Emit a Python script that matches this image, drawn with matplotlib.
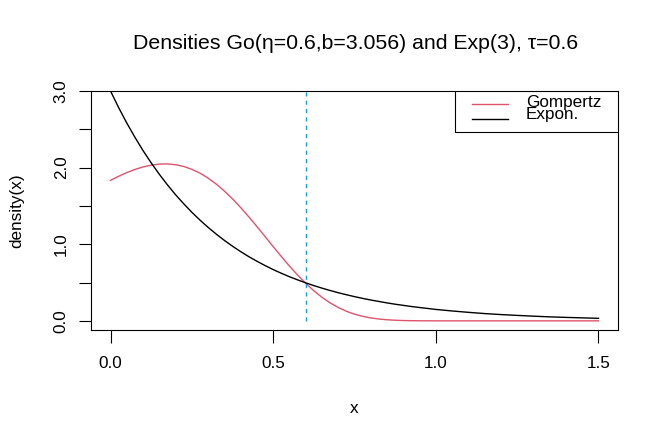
import numpy as np
import matplotlib
matplotlib.use("Agg")
import matplotlib.pyplot as plt
from matplotlib.lines import Line2D
from matplotlib.patches import Rectangle

plt.rcParams['font.family'] = ['Liberation Sans', 'DejaVu Sans']

# values
x_vals = [0.000, 0.025, 0.050, 0.075, 0.100, 0.125, 0.150, 0.175, 0.200, 0.225,
          0.250, 0.275, 0.300, 0.325, 0.350, 0.375, 0.400, 0.425, 0.450, 0.475,
          0.500, 0.525, 0.550, 0.575, 0.600, 0.625, 0.650, 0.675, 0.700, 0.725,
          0.750, 0.775, 0.800, 0.825, 0.850, 0.875, 0.900, 0.925, 0.950,
          1.00, 1.05, 1.10, 1.15, 1.20, 1.25, 1.30, 1.35, 1.40, 1.45, 1.50]
gompertz = [1.834, 1.887, 1.935, 1.976, 2.009, 2.032, 2.046, 2.048, 2.038, 2.015,
            1.978, 1.928, 1.863, 1.785, 1.694, 1.592, 1.479, 1.358, 1.231, 1.101,
            0.969, 0.840, 0.715, 0.598, 0.490, 0.393, 0.307, 0.234, 0.174, 0.125,
            0.087, 0.059, 0.038, 0.024, 0.014, 0.008, 0.004, 0.002, 0.001,
            0.000, 0.000, 0.000, 0.000, 0.000, 0.000, 0.000, 0.000, 0.000, 0.000, 0.000]
expon = [3.000, 2.783, 2.582, 2.396, 2.222, 2.062, 1.913, 1.775, 1.646, 1.528,
         1.417, 1.315, 1.220, 1.132, 1.050, 0.974, 0.904, 0.838, 0.778, 0.722,
         0.669, 0.621, 0.576, 0.535, 0.496, 0.460, 0.427, 0.396, 0.367, 0.341,
         0.316, 0.293, 0.272, 0.253, 0.234, 0.217, 0.202, 0.187, 0.174,
         0.149, 0.129, 0.111, 0.095, 0.082, 0.071, 0.061, 0.052, 0.045, 0.039, 0.033]
tau = 0.6
series_labels = ['Gompertz', 'Expon.']
x_ticks = [0.0, 0.5, 1.0, 1.5]
x_ticklabels = ['0.0', '0.5', '1.0', '1.5']
y_ticks = [0.0, 0.5, 1.0, 1.5, 2.0, 2.5, 3.0]
y_ticklabels = ['0.0', '', '1.0', '', '2.0', '', '3.0']

red = '#DF536B'
blue = '#2297E6'

W, H = 664, 443
fig = plt.figure(figsize=(W / 100, H / 100), dpi=100)
ax = fig.add_axes([91 / W, 1 - 329.5 / H, (618 - 91) / W, (329.5 - 91) / H])

ax.plot(x_vals, gompertz, color=red, lw=1.0, solid_joinstyle='round')
ax.plot(x_vals, expon, color='black', lw=1.0, solid_joinstyle='round')
ln, = ax.plot([tau, tau], [0, 3], color=blue, lw=1.0)
ln.set_dashes((3, 3))

ax.set_xlim(-0.06, 1.56)
ax.set_ylim(-0.113, 3.0)

ax.set_xticks(x_ticks)
ax.set_xticklabels(x_ticklabels)
ax.set_yticks(y_ticks)
ax.set_yticklabels(y_ticklabels, rotation=90, va='center')
ax.tick_params(axis='both', length=9, width=0.8, labelsize=12.3, pad=10)
ax.tick_params(axis='y', pad=7)

for s in ax.spines.values():
    s.set_linewidth(0.8)

ax.set_xlabel('x', fontsize=12.3, labelpad=22)
ax.set_ylabel('density(x)', fontsize=12.3, labelpad=21)
fig.text(355.5 / W, 1 - 49 / H, 'Densities Go(\u03b7=0.6,b=3.056) and Exp(3), \u03c4=0.6',
         fontsize=15.3, ha='center', va='baseline')

# R-style legend box in the top-right corner (axes fraction coords)
def px(xp, yp):
    return (xp - 91) / (618 - 91), (329.5 - yp) / (329.5 - 91)

bx0, by0 = px(455, 132)
ax.add_patch(Rectangle((bx0, by0), 1 - bx0, 1 - by0, transform=ax.transAxes,
                       facecolor='white', edgecolor='black', lw=0.8, zorder=5))
for lbl, col, ly, ty in zip(series_labels, [red, 'black'], [104.3, 119.3], [107.5, 119.5]):
    lx0, lyy = px(472, ly)
    lx1, _ = px(508, ly)
    ax.add_line(Line2D([lx0, lx1], [lyy, lyy], color=col, lw=1.0,
                       transform=ax.transAxes, zorder=6))
    tx, tyy = px(526, ty)
    ax.text(tx, tyy, lbl, transform=ax.transAxes, fontsize=12.3,
            ha='left', va='baseline', zorder=6)

fig.savefig('out.png', dpi=100)
